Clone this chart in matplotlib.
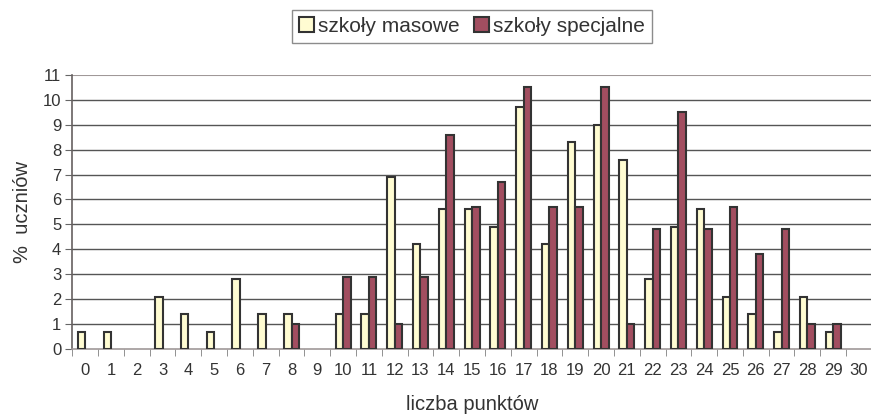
import numpy as np
import matplotlib.pyplot as plt

plt.rcParams['font.family'] = ['Liberation Sans', 'DejaVu Sans']
plt.rcParams['text.color'] = '#333333'
plt.rcParams['xtick.labelcolor'] = '#333333'
plt.rcParams['ytick.labelcolor'] = '#333333'
plt.rcParams['axes.labelcolor'] = '#333333'

punkty = list(range(0, 31))
masowe = [0.7, 0.7, 0, 2.1, 1.4, 0.7, 2.8, 1.4, 1.4, 0, 1.4, 1.4, 6.9, 4.2, 5.6, 5.6,
          4.9, 9.7, 4.2, 8.3, 9.0, 7.6, 2.8, 4.9, 5.6, 2.1, 1.4, 0.7, 2.1, 0.7, 0]
specjalne = [0, 0, 0, 0, 0, 0, 0, 0, 1.0, 0, 2.9, 2.9, 1.0, 2.9, 8.6, 5.7,
             6.7, 10.5, 5.7, 5.7, 10.5, 1.0, 4.8, 9.5, 4.8, 5.7, 3.8, 4.8, 1.0, 1.0, 0]

fig = plt.figure(figsize=(8.71, 4.16), dpi=100)
ax = fig.add_axes([0.083, 0.161, 0.918, 0.659])

x = np.array(punkty)
w = 0.29
m = np.array(masowe)
s = np.array(specjalne)
# Excel skips zero-height bars
ax.bar(x[m > 0] - w / 2, m[m > 0], width=w, color='#FFFCD2', edgecolor='#333333',
       linewidth=1.5, label='szkoły masowe', zorder=3)
ax.bar(x[s > 0] + w / 2, s[s > 0], width=w, color='#A24E60', edgecolor='#333333',
       linewidth=1.5, label='szkoły specjalne', zorder=3)

ax.set_xlim(-0.5, 30.5)
ax.set_ylim(0, 11)
ax.set_yticks(range(0, 12))
ax.set_xticks(punkty)
ax.set_xticks(np.arange(-0.5, 31, 1), minor=True)
ax.tick_params(axis='x', which='major', length=0, pad=10, labelsize=12)
ax.tick_params(axis='x', which='minor', length=5, color='#808080', direction='out')
ax.tick_params(axis='y', length=5, color='#666666', labelsize=12, pad=3)

for yv in range(1, 11):
    ax.axhline(yv, color='#555555', linewidth=1.0, zorder=1)
ax.axhline(11, color='#A09898', linewidth=1.5, zorder=1)

for sp in ['top', 'right']:
    ax.spines[sp].set_visible(False)
ax.spines['left'].set_color('#666060')
ax.spines['left'].set_linewidth(1.2)
ax.spines['bottom'].set_color('#A09898')
ax.spines['bottom'].set_linewidth(1.2)

ax.set_ylabel('%  uczniów', fontsize=14.5, labelpad=8)
ax.set_xlabel('liczba punktów', fontsize=14.5, labelpad=12)

fig.legend(loc='upper center', bbox_to_anchor=(0.542, 0.977), ncol=2, frameon=True,
           fancybox=False, edgecolor='#707070', fontsize=15, handlelength=0.7,
           handleheight=0.7, handletextpad=0.2, columnspacing=0.7, borderpad=0.35,
           borderaxespad=0)

fig.savefig('out.png', dpi=100)
